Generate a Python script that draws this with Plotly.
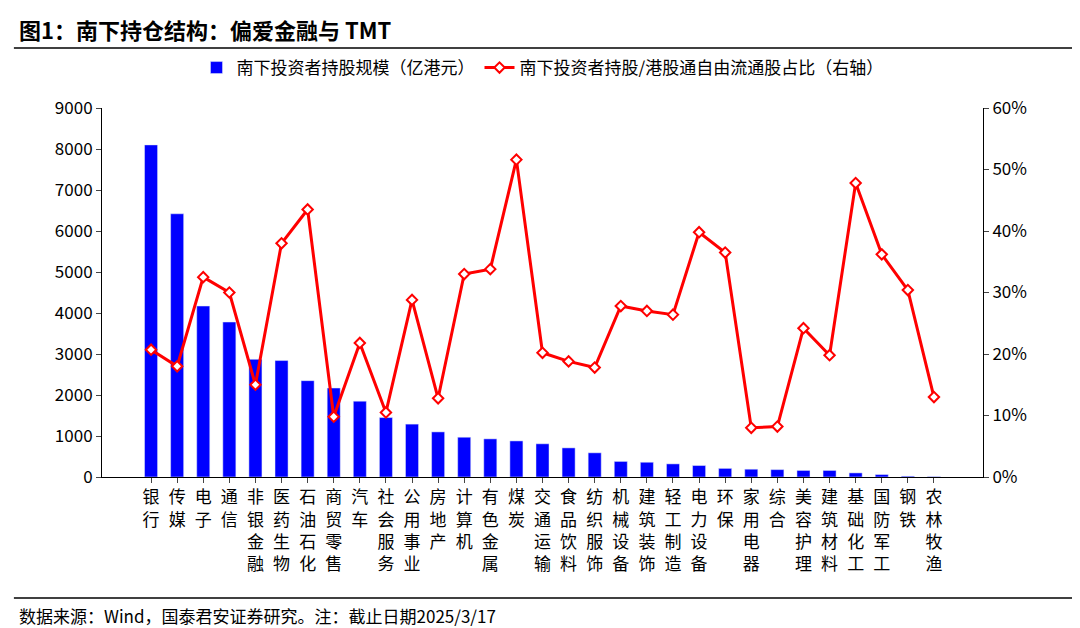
import plotly.graph_objects as go

categories = ["银行", "传媒", "电子", "通信", "非银金融", "医药生物", "石油石化", "商贸零售", "汽车",
              "社会服务", "公用事业", "房地产", "计算机", "有色金属", "煤炭", "交通运输", "食品饮料",
              "纺织服饰", "机械设备", "建筑装饰", "轻工制造", "电力设备", "环保", "家用电器", "综合",
              "美容护理", "建筑材料", "基础化工", "国防军工", "钢铁", "农林牧渔"]
holdings = [8100, 6420, 4170, 3780, 2870, 2840, 2350, 2170, 1850, 1450, 1290, 1100, 970, 930, 880,
            810, 710, 590, 380, 360, 320, 280, 210, 190, 180, 160, 160, 100, 60, 20, 10]
share_pct = [20.7, 18.0, 32.5, 30.0, 15.0, 38.0, 43.5, 9.8, 21.8, 10.5, 28.8, 12.8, 33.0, 33.8, 51.6,
             20.2, 18.8, 17.8, 27.8, 27.0, 26.4, 39.8, 36.5, 8.0, 8.2, 24.2, 19.8, 47.8, 36.2, 30.4, 13.0]

font = "Noto Sans CJK SC"
labels = ["<br>".join(c) for c in categories]

# plot area in pixels: top 100, bottom 469, height 369
def py(p):
    return (469 - p) / 369

fig = go.Figure()
fig.add_trace(go.Bar(x=labels, y=holdings, name="南下投资者持股规模（亿港元）",
                     marker_color="#0000FF", width=0.5))
fig.add_trace(go.Scatter(x=labels, y=share_pct, yaxis="y2", mode="lines+markers",
                         name="南下投资者持股/港股通自由流通股占比（右轴）",
                         line=dict(color="#FF0000", width=3),
                         marker=dict(symbol="diamond", size=8, color="white",
                                     line=dict(color="#FF0000", width=2))))

fig.update_layout(
    width=1080, height=628,
    paper_bgcolor="white", plot_bgcolor="white",
    font=dict(family=font, size=16, color="black"),
    margin=dict(l=94, r=105, t=100, b=159, autoexpand=False),
    showlegend=True,
    legend=dict(orientation="h", x=0.5, xanchor="center", y=py(60), yanchor="middle",
                font=dict(size=17)),
    xaxis=dict(tickangle=0, showline=True, linecolor="black", ticks="outside",
               tickfont=dict(size=17), ticklen=5, automargin=False),
    yaxis=dict(range=[0, 9000], dtick=1000, showgrid=False, showline=True, linecolor="black",
               ticks="outside", tickfont=dict(size=17), automargin=False),
    yaxis2=dict(range=[0, 60], dtick=10, overlaying="y", side="right", ticksuffix="%",
                showgrid=False, showline=True, linecolor="black", ticks="outside",
                tickfont=dict(size=17), automargin=False),
    shapes=[
        dict(type="line", xref="paper", yref="paper", x0=-0.1, x1=1.115, y0=py(40), y1=py(40),
             line=dict(color="black", width=1.5)),
        dict(type="line", xref="paper", yref="paper", x0=-0.1, x1=1.115, y0=py(590), y1=py(590),
             line=dict(color="black", width=1.5)),
    ],
    annotations=[
        dict(text="<b>图1：南下持仓结构：偏爱金融与 TMT</b>", xref="paper", yref="paper",
             x=-0.097, y=py(21), xanchor="left", yanchor="middle", showarrow=False,
             font=dict(size=22)),
        dict(text="数据来源：Wind，国泰君安证券研究。注：截止日期2025/3/17", xref="paper",
             yref="paper", x=-0.097, y=py(607), xanchor="left", yanchor="middle", showarrow=False,
             font=dict(size=17)),
    ],
)

fig.write_html("out.html")
